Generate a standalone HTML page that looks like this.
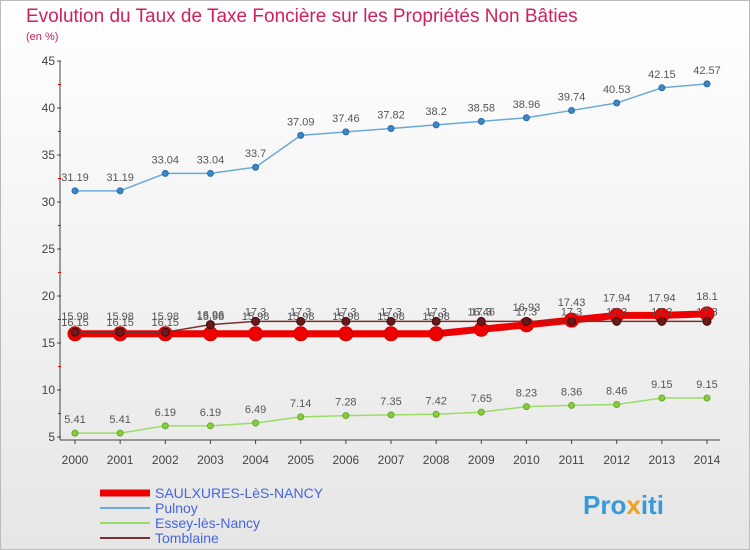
<!DOCTYPE html>
<html><head><meta charset="utf-8"><style>
body{margin:0;width:750px;height:550px;overflow:hidden;font-family:"Liberation Sans",sans-serif;}
svg{display:block}
</style></head><body>
<svg width="750" height="550">
<defs><linearGradient id="bg" x1="0" y1="0" x2="0" y2="1"><stop offset="0" stop-color="#ffffff"/><stop offset="1" stop-color="#e6e6e6"/></linearGradient></defs>
<rect x="0.5" y="0.5" width="749" height="549" fill="url(#bg)" stroke="#bbb"/>
<text x="26" y="22" font-size="19" fill="#d02060">Evolution du Taux de Taxe Foncière sur les Propriétés Non Bâties</text>
<text x="26" y="40" font-size="11" fill="#d02060">(en %)</text>
<g id="axes"></g><g id="series"></g><g id="legend"></g>
<text x="583" y="514" font-size="26" font-weight="bold" fill="#3a9ad9">Pro<tspan fill="#f0a020">x</tspan>iti</text>
</svg>
<script>
const years=[2000,2001,2002,2003,2004,2005,2006,2007,2008,2009,2010,2011,2012,2013,2014];
const yTicks=[5,10,15,20,25,30,35,40,45];
const saulxures=[15.98,15.98,15.98,15.98,15.98,15.98,15.98,15.98,15.98,16.46,16.93,17.43,17.94,17.94,18.1];
const pulnoy=[31.19,31.19,33.04,33.04,33.7,37.09,37.46,37.82,38.2,38.58,38.96,39.74,40.53,42.15,42.57];
const essey=[5.41,5.41,6.19,6.19,6.49,7.14,7.28,7.35,7.42,7.65,8.23,8.36,8.46,9.15,9.15];
const tomblaine=[16.15,16.15,16.15,16.96,17.3,17.3,17.3,17.3,17.3,17.3,17.3,17.3,17.3,17.3,17.3];
const NS="http://www.w3.org/2000/svg";
const X=i=>75+i*(707-75)/14;
const Y=v=>437-(v-5)*(437-61)/40;
function mk(tag,attrs,parent){const e=document.createElementNS(NS,tag);for(const k in attrs)e.setAttribute(k,attrs[k]);parent.appendChild(e);return e;}
const axes=document.getElementById('axes');
let ax=mk('line',{x1:60,y1:61,x2:60,y2:440,stroke:'#444'},axes);


let xa=mk('line',{x1:60,y1:440,x2:720,y2:440,stroke:'#444'},axes);


yTicks.forEach(v=>{
 const t=mk('text',{x:55,y:Y(v)+4,'font-size':12,'text-anchor':'end',fill:'#444'},axes);t.textContent=v;
 
 
 mk('line',{x1:57,y1:Y(v),x2:61,y2:Y(v),stroke:'#444'},axes);
 if(v<45) mk('line',{x1:58,y1:Y(v+2.5),x2:61,y2:Y(v+2.5),stroke:'#e00'},axes);
});
years.forEach((y,i)=>{
 const t=mk('text',{x:X(i),y:464,'font-size':12,'text-anchor':'middle',fill:'#444'},axes);t.textContent=y;
 
 
 mk('line',{x1:X(i),y1:440,x2:X(i),y2:444,stroke:'#444'},axes);
});
const ser=document.getElementById('series');
function draw(name,data,color,width,r,dotFill,dotStroke,labelDy){
 const g=mk('g',{},ser);
 
 
 const p=mk('polyline',{points:data.map((v,i)=>X(i)+','+Y(v)).join(' '),fill:'none',stroke:color,'stroke-width':width,'stroke-linejoin':'round'},g);
 
 
 data.forEach((v,i)=>{
  const c=mk('circle',{cx:X(i),cy:Y(v),r:r,fill:dotFill,stroke:dotStroke,'stroke-width':1},g);
  
  
  const t=mk('text',{x:X(i),y:Y(v)+labelDy,'font-size':11,'text-anchor':'middle',fill:'#555'},g);t.textContent=v;
  
  
 });
}
draw('pulnoy',pulnoy,'#6aaad8',1.5,3,'#3a88c8','#2a6aa8',-10);
draw('essey',essey,'#99dd66',1.5,3,'#88cc44','#66aa22',-10);
draw('saulxures',saulxures,'#ee0000',7,7,'#ee0000','#cc0000',-14);
draw('tomblaine',tomblaine,'#7a3030',1.5,4,'#6a1a1a','#3a0a0a',-6);
const lg=document.getElementById('legend');
const items=[['SAULXURES-LèS-NANCY','#ee0000',7],['Pulnoy','#6aaad8',2],['Essey-lès-Nancy','#99dd66',2],['Tomblaine','#7a3030',2]];
items.forEach((it,i)=>{
 const y=493+i*15;
 const g=mk('g',{},lg);
 
 
 mk('line',{x1:100,y1:y,x2:150,y2:y,stroke:it[1],'stroke-width':it[2]},g);
 const t=mk('text',{x:155,y:y+5,'font-size':14,fill:'#4466dd'},g);t.textContent=it[0];
});
</script>
</body></html>
